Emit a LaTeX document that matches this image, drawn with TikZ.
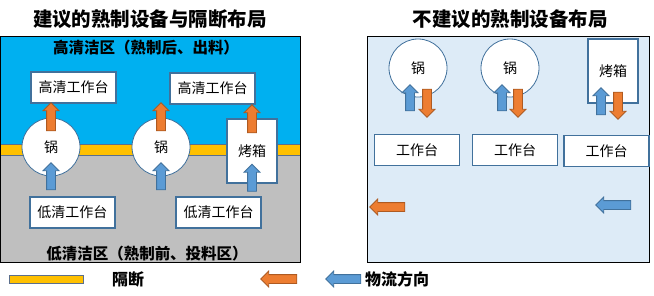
\documentclass[tikz,border=0pt]{standalone}
\usepackage{fontspec}
\setmainfont{Noto Sans CJK SC}
\usetikzlibrary{shapes.arrows}
\definecolor{ZoneHigh}{HTML}{00B0F0}
\definecolor{ZoneLow}{HTML}{BFBFBF}
\definecolor{ZonePlain}{HTML}{DDEBF7}
\definecolor{PartitionFill}{HTML}{FFC000}
\definecolor{PartitionEdge}{HTML}{5B6F8C}
\definecolor{EquipEdge}{HTML}{41719C}
\definecolor{FlowOut}{HTML}{ED7D31}
\definecolor{FlowOutEdge}{HTML}{AE5A21}
\definecolor{FlowIn}{HTML}{5B9BD5}
\definecolor{FlowInEdge}{HTML}{41719C}
\tikzset{
    layout/diagram/.style={
        x=1pt, y=-1pt,
        line join=miter,
        every node/.style={inner sep=0pt, outer sep=0pt}
    },
    layout/title/.style={font=\bfseries\fontsize{19.5}{19.5}\selectfont},
    layout/zonelabel/.style={font=\bfseries\fontsize{15.5}{15.5}\selectfont},
    layout/zone/.style={draw=black, line width=0.9pt},
    layout/partition/.style={fill=PartitionFill, draw=PartitionEdge, line width=0.6pt},
    layout/bench/.style={
        draw=EquipEdge, fill=white, line width=1.8pt,
        minimum width=85pt, minimum height=31pt,
        font=\fontsize{14}{14}\selectfont
    },
    layout/pot/.style={
        circle, draw=EquipEdge, fill=white, line width=0.8pt,
        minimum size=58pt, font=\fontsize{14}{14}\selectfont
    },
    layout/oven/.style={
        draw=EquipEdge, fill=white, line width=1.8pt,
        minimum width=50pt, minimum height=64pt,
        font=\fontsize{14}{14}\selectfont
    },
    layout/flow/.style={
        single arrow, line width=0.8pt,
        minimum height=28pt, minimum width=15pt,
        inner sep=4pt, single arrow head extend=3.5pt
    },
    layout/flowout/.style={layout/flow, fill=FlowOut, draw=FlowOutEdge},
    layout/flowin/.style={layout/flow, fill=FlowIn, draw=FlowInEdge},
    layout/legendtext/.style={font=\bfseries\fontsize{16}{16}\selectfont}
}

\begin{document}
\begin{tikzpicture}[layout/diagram]
    \useasboundingbox (0,0) rectangle (654,295);
    % recommended layout
    \fill[ZoneHigh] (0.5,36) rectangle (300,144);
    \fill[ZoneLow] (0.5,155) rectangle (300,262);
    \draw[layout/partition] (0.5,144) rectangle (300,155);
    \draw[layout/zone] (0.5,36) rectangle (300,262);
    \node[layout/title] (GoodTitle) at (150,19) {建议的熟制设备与隔断布局};
    \node[layout/zonelabel] (HighZone) at (146,48) {高清洁区（熟制后、出料）};
    \node[layout/zonelabel] (LowZone) at (147,254) {低清洁区（熟制前、投料区）};
    \node[layout/bench] (HighBenchA) at (73.5,87.5) {高清工作台};
    \node[layout/bench] (HighBenchB) at (212.5,88.5) {高清工作台};
    \node[layout/bench] (LowBenchA) at (72.5,212.5) {低清工作台};
    \node[layout/bench] (LowBenchB) at (218.5,212.5) {低清工作台};
    \node[layout/pot] (PotA) at (51,147) {锅};
    \node[layout/pot] (PotB) at (161,147) {锅};
    \node[layout/oven] (OvenA) at (252,151) {烤箱};
    \node[layout/flowout, rotate=90] (OutA) at (51,119) {};
    \node[layout/flowout, rotate=90] (OutB) at (161,119) {};
    \node[layout/flowout, rotate=90] (OutC) at (252,121) {};
    \node[layout/flowin, rotate=90, minimum height=27pt] (InA) at (51,178.5) {};
    \node[layout/flowin, rotate=90, minimum height=27pt] (InB) at (161,178.5) {};
    \node[layout/flowin, rotate=90, minimum height=27pt] (InC) at (252,180) {};
    % not recommended layout
    \fill[ZonePlain] (367,36) rectangle (649,262);
    \draw[layout/zone] (367,36) rectangle (649,262);
    \node[layout/title] (BadTitle) at (510,19) {不建议的熟制设备布局};
    \node[layout/pot] (PotC) at (418,68) {锅};
    \node[layout/pot] (PotD) at (510,68) {锅};
    \node[layout/oven] (OvenB) at (613,71) {烤箱};
    \node[layout/bench] (BenchA) at (417,150) {工作台};
    \node[layout/bench] (BenchB) at (515,150) {工作台};
    \node[layout/bench] (BenchC) at (606.5,151) {工作台};
    \node[layout/flowin, rotate=90, minimum height=26pt] (InD) at (410,100) {};
    \node[layout/flowout, rotate=-90] (OutD) at (427,101) {};
    \node[layout/flowin, rotate=90, minimum height=26pt] (InE) at (502,100) {};
    \node[layout/flowout, rotate=-90] (OutE) at (518,101) {};
    \node[layout/flowin, rotate=90, minimum height=27pt] (InF) at (601,103.5) {};
    \node[layout/flowout, rotate=-90, minimum height=27pt] (OutF) at (618,103.5) {};
    \node[layout/flowout, rotate=180, minimum height=35pt] (OutG) at (389.5,207) {};
    \node[layout/flowin, rotate=180, minimum height=35pt] (InG) at (615.5,205) {};
    % legend
    \draw[layout/partition] (9,275) rectangle (83,283);
    \node[layout/legendtext] (PartitionKey) at (128,279) {隔断};
    \node[layout/flowout, rotate=180, minimum height=36pt] (OutKey) at (281,279) {};
    \node[layout/flowin, rotate=180, minimum height=35pt] (InKey) at (345.5,279) {};
    \node[layout/legendtext, anchor=west] (FlowKey) at (365,279) {物流方向};
\end{tikzpicture}
\end{document}
